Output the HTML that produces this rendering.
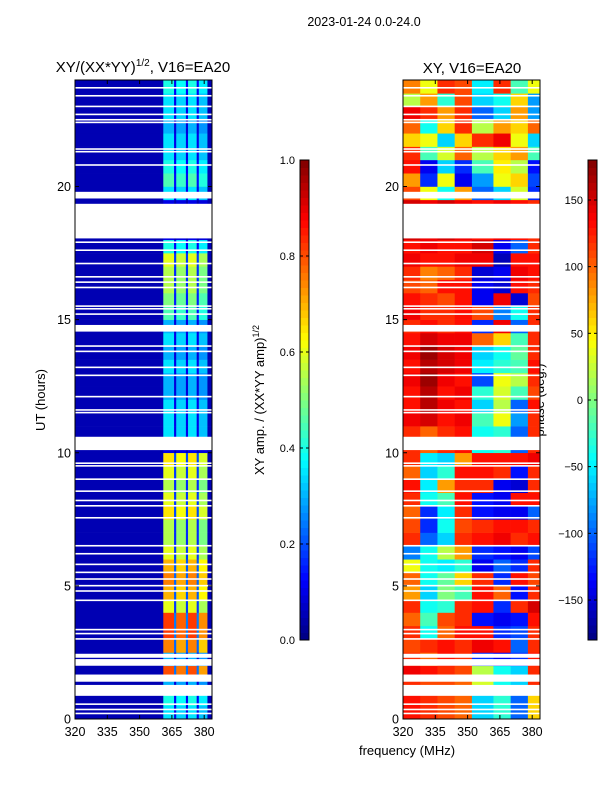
<!DOCTYPE html>
<html><head><meta charset="utf-8"><style>
body{margin:0;background:#fff;width:600px;height:800px;overflow:hidden;font-family:"Liberation Sans",sans-serif}
svg text{font-family:"Liberation Sans",sans-serif;fill:#000}
</style></head><body>
<svg id="fig" width="600" height="800" xmlns="http://www.w3.org/2000/svg">
<text x="364" y="26" font-size="12.5" text-anchor="middle">2023-01-24 0.0-24.0</text>
<text x="143" y="72" font-size="15" text-anchor="middle">XY/(XX*YY)<tspan font-size="10" dy="-6">1/2</tspan><tspan dy="6">, V16=EA20</tspan></text>
<text x="472" y="73" font-size="15" text-anchor="middle">XY, V16=EA20</text>
<text transform="translate(45,400) rotate(-90)" font-size="13" text-anchor="middle">UT (hours)</text>
<text x="407" y="755" font-size="13" text-anchor="middle">frequency (MHz)</text>
<text transform="translate(264,400) rotate(-90)" font-size="13" text-anchor="middle">XY amp. / (XX*YY amp)<tspan font-size="9" dy="-5">1/2</tspan></text>
<text transform="translate(544,400) rotate(-90)" font-size="13" text-anchor="middle">phase (deg.)</text>
<g id="layer"></g>
</svg>
<script>
// ---- data ----
const hourEdges = []; for (let i = 0; i <= 48; i++) hourEdges.push(i * 0.5);
const ampFreqEdges = [320, 361, 366, 367, 371.5, 372.5, 376.5, 377.5, 381.5, 383.4];
const ampBand = [0.35,0.4,0.3,0.8,0.3,0.75,0.82,0.82,0.6,0.7,0.75,0.7,0.6,0.55,0.55,0.65,0.6,0.55,0.6,0.65,0.1,0.35,0.35,0.35,0.3,0.3,0.35,0.3,0.35,0.3,0.45,0.5,0.55,0.55,0.6,0.4,0.1,0.1,0.1,0.35,0.45,0.4,0.35,0.35,0.3,0.35,0.35,0.4];
const ampSubScale = [0.05, 1.0, 0.3, 0.95, 0.3, 1.0, 0.3, 0.9, 0.05];
const phaseFreqEdges = [320, 328, 336, 344, 352, 362, 370, 378, 383.4];
const phase = [
[130,120,110,100,-60,-30,-100,60],[130,120,110,100,-60,-30,-100,60],[120,110,110,100,30,-40,-60,120],
[140,130,120,110,20,-40,-60,120],[120,100,130,120,-120,-140,-120,130],[110,120,130,120,140,130,-100,120],
[120,-40,100,130,130,-120,-110,120],[100,-20,110,120,-130,-140,-130,130],[120,-40,-30,120,130,-120,120,150],
[80,-60,0,-20,130,100,-130,120],[100,-40,-10,60,120,-120,130,110],[40,-40,-50,-30,-140,-100,-120,120],
[-90,-40,20,80,-120,-130,-140,-110],[120,-100,-60,120,130,140,120,130],[110,-120,-40,110,120,130,130,120],
[100,-120,-50,120,-130,-140,-140,-100],[120,-40,-20,130,-130,-140,130,130],[130,-50,80,120,120,-140,-150,120],
[100,-60,-30,130,130,120,-130,120],[120,-50,-60,80,130,130,130,140],[120,100,120,130,-40,-30,-100,120],
[120,100,120,130,-40,-30,-100,120],[140,150,130,140,-20,40,-80,120],[130,160,140,130,-60,20,-100,130],
[130,160,130,140,-30,30,-20,110],[140,170,140,130,-110,40,20,120],[130,160,150,140,-50,-30,-20,130],
[140,170,150,140,-60,-40,-10,120],[130,150,140,140,100,60,-20,120],[120,130,120,130,-120,140,-100,120],
[140,120,120,130,110,-90,-40,120],[130,120,110,130,-140,140,-150,110],[110,100,130,130,-140,-150,130,120],
[120,90,100,120,-150,-140,140,130],[140,130,130,140,140,-160,130,130],[130,140,130,130,150,-140,-100,120],
[150,140,150,140,130,140,130,120],[150,140,150,140,130,140,130,120],[150,140,150,140,130,140,130,120],
[110,40,-40,80,-100,-60,30,-120],[80,-120,40,-140,-80,40,60,-110],[130,-140,-60,-120,-20,50,20,-130],
[120,-20,30,100,20,60,80,-20],[60,40,-60,60,120,140,40,-60],[100,-40,60,120,20,80,60,100],
[140,120,80,120,-100,-60,80,-80],[20,80,-30,110,-60,-40,60,-80],[90,40,120,110,-50,120,-20,40]];
const gapStart = [18.05, 19.55, 10.1, 14.55, 0.87, 1.4, 2.0, 2.3];
const gapEnd   = [19.35, 19.8, 10.6, 14.8, 1.28, 1.67, 2.25, 2.45];
const thinLines = [0.2,0.35,0.55,3.0,3.2,3.35,4.45,4.8,5.0,5.25,5.5,5.8,6.2,6.5,7.55,8.0,8.2,8.55,9.0,9.5,9.6,11.5,11.6,12.1,12.9,13.2,13.8,14.0,15.2,15.4,15.5,16.2,16.4,16.6,17.1,17.6,17.9,20.8,21.3,21.4,22.4,22.5,22.7,23.0,23.4,23.7];
const xTicks = [320, 335, 350, 365, 380];
const yTicks = [0, 5, 10, 15, 20];
const ampCbTicks = [0.0, 0.2, 0.4, 0.6, 0.8, 1.0];
const phaseCbTicks = [-150, -100, -50, 0, 50, 100, 150];

// ---- geometry ----
const Y0 = 719, Y1 = 80;
const yScale = h => Y0 - (h / 24) * (Y0 - Y1);
const xScaleL = f => 75 + (f - 320) / 15 * 32.3;
const xScaleR = f => 403 + (f - 320) / 15 * 32.3;
function jet(v){v=Math.max(0,Math.min(1,v));
 const r=Math.max(0,Math.min(1,1.5-Math.abs(4*v-3))),g=Math.max(0,Math.min(1,1.5-Math.abs(4*v-2))),b=Math.max(0,Math.min(1,1.5-Math.abs(4*v-1)));
 return `rgb(${Math.round(r*255)},${Math.round(g*255)},${Math.round(b*255)})`;}
const NS='http://www.w3.org/2000/svg', layer=document.getElementById('layer');
function mk(tag,attrs,parent){const e=document.createElementNS(NS,tag);for(const k in attrs)e.setAttribute(k,attrs[k]);(parent||layer).appendChild(e);return e;}

// amplitude panel
const gA = mk('g',{});


for(let r=0;r<48;r++)for(let c=0;c<ampSubScale.length;c++){
 const v = c===0||c===ampSubScale.length-1 ? 0.05 : Math.max(0.05, ampBand[r]*ampSubScale[c]);
 const x0=xScaleL(ampFreqEdges[c]),x1=xScaleL(ampFreqEdges[c+1]),ya=yScale(hourEdges[r+1]),yb=yScale(hourEdges[r]);
 const el=mk('rect',{x:x0,y:ya,width:x1-x0+0.3,height:yb-ya+0.3,fill:jet(v)},gA);
 
 
}
// phase panel
const gP = mk('g',{});


for(let r=0;r<48;r++)for(let c=0;c<8;c++){
 const v=(phase[r][c]+180)/360;
 const x0=xScaleR(phaseFreqEdges[c]),x1=xScaleR(phaseFreqEdges[c+1]),ya=yScale(hourEdges[r+1]),yb=yScale(hourEdges[r]);
 const el=mk('rect',{x:x0,y:ya,width:x1-x0+0.3,height:yb-ya+0.3,fill:jet(v)},gP);
 
 
}
// gaps
[[75,212],[403,540]].forEach(([a,b])=>{
 for(let i=0;i<gapStart.length;i++){
  const el=mk('rect',{x:a,y:yScale(gapEnd[i]),width:b-a,height:yScale(gapStart[i])-yScale(gapEnd[i]),fill:'#fff'});
  
  
 }
 thinLines.forEach(h=>{
  const el=mk('rect',{x:a,y:yScale(h)-1,width:b-a,height:1.6,fill:'#fff'});
  
  
 });
});
// axes frames & ticks
[[75,212,xScaleL,'amp'],[403,540,xScaleR,'phase']].forEach(([a,b,xs,nm])=>{
 const fr=mk('rect',{x:a,y:Y1,width:b-a,height:Y0-Y1,fill:'none',stroke:'#000','stroke-width':1});
 
 
 xTicks.forEach(t=>{const x=xs(t);
  mk('line',{x1:x,x2:x,y1:Y0,y2:Y0-4,stroke:'#000'});mk('line',{x1:x,x2:x,y1:Y1,y2:Y1+4,stroke:'#000'});
  const tx=mk('text',{x:x,y:Y0+17,'font-size':12.5,'text-anchor':'middle'});tx.textContent=t;
  
  });
 yTicks.forEach(t=>{const y=yScale(t);
  mk('line',{x1:a,x2:a+4,y1:y,y2:y,stroke:'#000'});mk('line',{x1:b,x2:b-4,y1:y,y2:y,stroke:'#000'});
  const tx=mk('text',{x:a-4,y:y+4.5,'font-size':12.5,'text-anchor':'end'});tx.textContent=t;
  
  });
});
// colorbars
function colorbar(x,lo,hi,ticks,nm,fmt){
 const top=160,bot=640,n=64;
 for(let i=0;i<n;i++){const y=bot-(i+1)*(bot-top)/n;
  const el=mk('rect',{x:x,y:y,width:9,height:(bot-top)/n+0.5,fill:jet((i+0.5)/n)});
  
  }
 const fr=mk('rect',{x:x,y:top,width:9,height:bot-top,fill:'none',stroke:'#000'});
 
 
 ticks.forEach(t=>{const y=bot-(t-lo)/(hi-lo)*(bot-top);
  mk('line',{x1:x,x2:x+3,y1:y,y2:y,stroke:'#000'});mk('line',{x1:x+9,x2:x+6,y1:y,y2:y,stroke:'#000'});
  const tx=mk('text',{x:x-5,y:y+4,'font-size':11,'text-anchor':'end'});tx.textContent=fmt(t);
  
  });
}
colorbar(300,0,1,ampCbTicks,'amp',t=>t.toFixed(1));
colorbar(588,-180,180,phaseCbTicks,'phase',t=>t<0?'\u2212'+(-t):''+t);
</script>
</body></html>
